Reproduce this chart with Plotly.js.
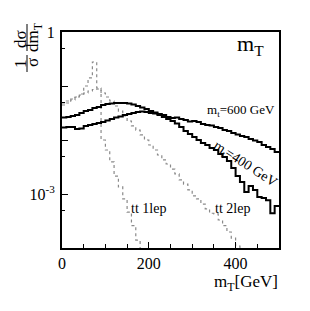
<!DOCTYPE html>
<html><head><meta charset="utf-8">
<script src="https://cdn.plot.ly/plotly-3.0.1.min.js"></script>
<style>html,body{margin:0;padding:0;background:#fff;}#chart{width:310px;height:311px;}</style>
</head><body><div id="chart"></div><script>
// histogram binning (GeV)
const binLow = 0;
const binWidth = 10;

// 1/sigma dsigma/dmT per 10 GeV bin
const mt400 = [0.0261,0.0267,0.0278,0.0290,0.0316,0.0344,0.0359,0.0391,0.0408,0.0445,
               0.0464,0.0474,0.0484,0.0484,0.0484,0.0474,0.0454,0.0426,0.0400,0.0375,
               0.0344,0.0323,0.0290,0.0267,0.0245,0.0225,0.0202,0.0174,0.0147,0.0129,
               0.0114,0.0100,0.00880,0.00808,0.00711,0.00653,0.00551,0.00484,0.00408,0.00303,
               0.00215,0.00167,0.00109,0.00141,0.00119,0.00088,0.00084,0.00077,0.00044,0.00060];
const mt600 = [0.0170,0.0174,0.0174,0.0160,0.0163,0.0182,0.0190,0.0198,0.0206,0.0216,
               0.0230,0.0245,0.0261,0.0272,0.0290,0.0303,0.0316,0.0330,0.0337,0.0330,
               0.0316,0.0310,0.0303,0.0290,0.0267,0.0255,0.0261,0.0245,0.0235,0.0220,
               0.0225,0.0216,0.0198,0.0190,0.0186,0.0174,0.0167,0.0153,0.0147,0.0135,
               0.0126,0.0119,0.0114,0.0104,0.0098,0.0092,0.0081,0.0074,0.0068,0.0060];
const tt1lep = [0.0445,0.0484,0.0551,0.0626,0.0711,0.100,0.141,0.278,0.0918,0.0100,
                0.00653,0.00392,0.00215,0.00135,0.00081,0.00046,0.00026,0.00014,0.000055,0.000026];
const tt2lep = [0.0484,0.0528,0.0575,0.0626,0.0681,0.0742,0.0808,0.0861,0.0880,0.0742,
                0.0626,0.0528,0.0426,0.0344,0.0278,0.0225,0.0182,0.0153,0.0124,0.0100,
                0.00808,0.00653,0.00528,0.00427,0.00359,0.00290,0.00235,0.00182,0.00153,0.00119,
                0.00092,0.00081,0.00065,0.00053,0.00044,0.00043,0.00033,0.00026,0.000198,0.000153,
                0.000109,0.000060];

const xTickVals = [0, 200, 400];
const xTickText = ['0', '200', '400'];
const yTickVals = [1, 0.1, 0.01, 0.001];
const yTickText = ['1', '', '', '10<sup>-3</sup>'];
const yMinorVals = [0.5, 0.05, 0.005, 0.0005];

function steps(vals){
  const x = [], y = [];
  vals.forEach((v, i) => { x.push(binLow + i * binWidth); y.push(v); });
  x.push(binLow + vals.length * binWidth); y.push(vals[vals.length - 1]);
  return {x, y};
}

const W = 310, H = 311, L = 62, R = 279, T = 32, B = 248;
const px = x => (x - L) / (R - L);
const py = y => (B - y) / (B - T);
const serif = 'Liberation Serif, Times New Roman, serif';

function hist(vals, color, dash, width){
  const s = steps(vals);
  return {x: s.x, y: s.y, type: 'scatter', mode: 'lines',
          line: {shape: 'hv', color: color, dash: dash, width: width},
          hoverinfo: 'skip', cliponaxis: true};
}

const data = [
  hist(tt1lep, '#8a8a8a', 'dot', 1.2),
  hist(tt2lep, '#8a8a8a', 'dot', 1.2),
  hist(mt600, '#000', 'solid', 2),
  hist(mt400, '#000', 'solid', 2)
];

function ann(text, x, y, size, angle, extra){
  return Object.assign({text: text, xref: 'paper', yref: 'paper', x: px(x), y: py(y),
    showarrow: false, textangle: angle || 0, font: {family: serif, size: size, color: '#000'},
    xanchor: 'center', yanchor: 'middle'}, extra || {});
}

const layout = {
  width: W, height: H,
  margin: {l: L, r: W - R, t: T, b: H - B, pad: 0},
  paper_bgcolor: '#fff', plot_bgcolor: '#fff',
  showlegend: false,
  xaxis: {range: [0, 500], tickvals: xTickVals, ticktext: xTickText, ticks: 'inside', ticklen: 6,
          tickwidth: 1, tickcolor: '#000', showline: true, linewidth: 2, linecolor: '#000', mirror: true,
          showgrid: false, zeroline: false, tickfont: {family: serif, size: 16, color: '#000'},
          minor: {dtick: 50, tick0: 0, ticks: 'inside', ticklen: 4, tickcolor: '#000', showgrid: false}},
  yaxis: {type: 'log', range: [-4, 0], tickvals: yTickVals, ticktext: yTickText, ticks: 'inside', ticklen: 6,
          tickwidth: 1, tickcolor: '#000', showline: true, linewidth: 2, linecolor: '#000', mirror: true,
          showgrid: false, zeroline: false, tickfont: {family: serif, size: 16, color: '#000'},
          ticklabelstandoff: 2,
          minor: {tickmode: 'array', tickvals: yMinorVals, ticks: 'inside', ticklen: 3, tickcolor: '#000', showgrid: false}},
  annotations: [
    ann('m<sub>T</sub>', 250, 45, 22),
    ann('m<sub>T</sub>[GeV]', 280, 283, 17, 0, {xanchor: 'right'}),
    ann('m<sub>t</sub>=600 GeV', 241, 110, 13),
    ann('m<sub>t</sub>=400 GeV', 245, 164, 14, 33),
    ann('tt 1lep', 148, 208, 14),
    ann('tt 2lep', 232, 208, 14),
    ann('1', 20, 64, 17, -90),
    ann('σ', 33, 63, 17, -90),
    ann('dσ', 20, 39, 17, -90),
    ann('dm<sub>T</sub>', 34, 37, 17, -90)
  ],
  shapes: [
    {type: 'line', xref: 'paper', yref: 'paper', x0: px(27), x1: px(27), y0: py(55), y1: py(72), line: {color: '#000', width: 1}},
    {type: 'line', xref: 'paper', yref: 'paper', x0: px(27), x1: px(27), y0: py(24), y1: py(51), line: {color: '#000', width: 1}}
  ]
};

Plotly.newPlot('chart', data, layout, {staticPlot: true, displayModeBar: false});
</script></body></html>
